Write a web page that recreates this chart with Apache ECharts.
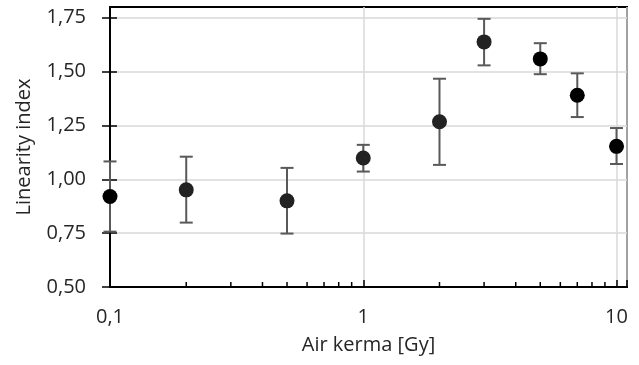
<!DOCTYPE html>
<html>
<head>
<meta charset="utf-8">
<script src="https://cdn.jsdelivr.net/npm/echarts@6/dist/echarts.min.js"></script>
<style>
html,body{margin:0;padding:0;background:#fff;}
#chart{width:639px;height:365px;}
</style>
</head>
<body>
<div id="chart"></div>
<script>
// Data
const airKerma = [0.1, 0.2, 0.5, 1, 2, 3, 5, 7, 10];
const linearity = [0.920, 0.951, 0.900, 1.099, 1.267, 1.638, 1.559, 1.390, 1.153];
const errLow = [0.757, 0.799, 0.748, 1.036, 1.067, 1.529, 1.488, 1.289, 1.071];
const errHigh = [1.083, 1.105, 1.053, 1.160, 1.467, 1.745, 1.632, 1.492, 1.238];

// Tick values and labels
const yTickValues = [0.5, 0.75, 1.0, 1.25, 1.5, 1.75];
const yTickLabels = ['0,50', '0,75', '1,00', '1,25', '1,50', '1,75'];
const xTickValues = [0.1, 1, 10];
const xTickLabels = ['0,1', '1', '10'];
const xMinorTicks = [0.2, 0.3, 0.4, 0.5, 0.6, 0.7, 0.8, 0.9, 2, 3, 4, 5, 6, 7, 8, 9];

// Styles (kept apart from data)
const markerColors = ['#000000', '#222222', '#222222', '#222222', '#222222', '#222222', '#000000', '#000000', '#000000'];
const FONT = 'Open Sans';
const FS = 20;
const TEXT = '#262626';
const Y_MIN = 0.5, Y_MAX = 1.8;

const chart = echarts.init(document.getElementById('chart'), null, {renderer: 'canvas'});

const yAxisBase = {
  type: 'value', min: Y_MIN, max: Y_MAX, interval: 0.25, position: 'left'
};

const option = {
  animation: false,
  backgroundColor: '#ffffff',
  grid: {
    left: 110, right: 12, top: 7, bottom: 78,
    show: true, borderColor: '#000', borderWidth: 2, backgroundColor: 'transparent'
  },
  xAxis: [{
    type: 'log', logBase: 10, min: 0.1, max: 11,
    name: 'Air kerma [Gy]', nameLocation: 'middle', nameGap: 48,
    nameTextStyle: {fontFamily: FONT, fontSize: FS, color: TEXT},
    axisLine: {show: true, lineStyle: {color: '#000', width: 2}},
    axisTick: {show: true, inside: true, length: 7, lineStyle: {color: '#000', width: 1.5}},
    axisLabel: {
      fontFamily: FONT, fontSize: FS, color: TEXT, margin: 20,
      formatter: function (v) {
        for (let i = 0; i < xTickValues.length; i++) {
          if (Math.abs(v - xTickValues[i]) < 1e-6 * xTickValues[i]) return xTickLabels[i];
        }
        return '';
      }
    },
    splitLine: {show: true, lineStyle: {color: '#d9d9d9', width: 1.5}}
  }],
  yAxis: [Object.assign({}, yAxisBase, {
    name: 'Linearity index', nameLocation: 'middle', nameGap: 76,
    nameTextStyle: {fontFamily: FONT, fontSize: FS, color: TEXT},
    axisLine: {show: true, lineStyle: {color: '#000', width: 2}},
    axisTick: {show: true, inside: false, length: 8, customValues: yTickValues, lineStyle: {color: '#000', width: 1.5}},
    axisLabel: {
      fontFamily: FONT, fontSize: FS, color: TEXT, margin: 24,
      customValues: yTickValues,
      formatter: function (v) {
        for (let i = 0; i < yTickValues.length; i++) {
          if (Math.abs(v - yTickValues[i]) < 1e-6) return yTickLabels[i];
        }
        return '';
      }
    },
    splitLine: {show: true, lineStyle: {color: '#d9d9d9', width: 1.5}}
  }), Object.assign({}, yAxisBase, {
    axisLine: {show: false},
    axisTick: {show: true, inside: true, length: 7, customValues: yTickValues, lineStyle: {color: '#000', width: 1.5}},
    axisLabel: {show: false},
    splitLine: {show: false}
  })],
  series: [
    {
      // minor ticks of the log axis
      type: 'custom',
      coordinateSystem: 'cartesian2d',
      xAxisIndex: 0, yAxisIndex: 0,
      silent: true, z: 4, clip: false,
      data: xMinorTicks.map(function (v) { return [v, Y_MIN]; }),
      renderItem: function (params, api) {
        const p = api.coord([api.value(0), api.value(1)]);
        return {
          type: 'line',
          shape: {x1: p[0], y1: p[1], x2: p[0], y2: p[1] - 5},
          style: {stroke: '#000', lineWidth: 1.5}
        };
      }
    },
    {
      // error bars
      type: 'custom',
      coordinateSystem: 'cartesian2d',
      xAxisIndex: 0, yAxisIndex: 0,
      silent: true, z: 5, clip: false,
      data: airKerma.map(function (x, i) { return [x, errLow[i], errHigh[i]]; }),
      renderItem: function (params, api) {
        const lo = api.coord([api.value(0), api.value(1)]);
        const hi = api.coord([api.value(0), api.value(2)]);
        const hw = 6.5;
        const st = {stroke: '#595959', lineWidth: 2};
        return {
          type: 'group',
          children: [
            {type: 'line', shape: {x1: lo[0], y1: lo[1], x2: hi[0], y2: hi[1]}, style: st},
            {type: 'line', shape: {x1: lo[0] - hw, y1: lo[1], x2: lo[0] + hw, y2: lo[1]}, style: st},
            {type: 'line', shape: {x1: hi[0] - hw, y1: hi[1], x2: hi[0] + hw, y2: hi[1]}, style: st}
          ]
        };
      }
    },
    {
      type: 'scatter',
      xAxisIndex: 0, yAxisIndex: 0,
      z: 6, clip: false,
      symbol: 'circle', symbolSize: 15,
      data: airKerma.map(function (x, i) {
        return {value: [x, linearity[i]], itemStyle: {color: markerColors[i], opacity: 1}};
      })
    }
  ]
};

chart.setOption(option);
</script>
</body>
</html>
